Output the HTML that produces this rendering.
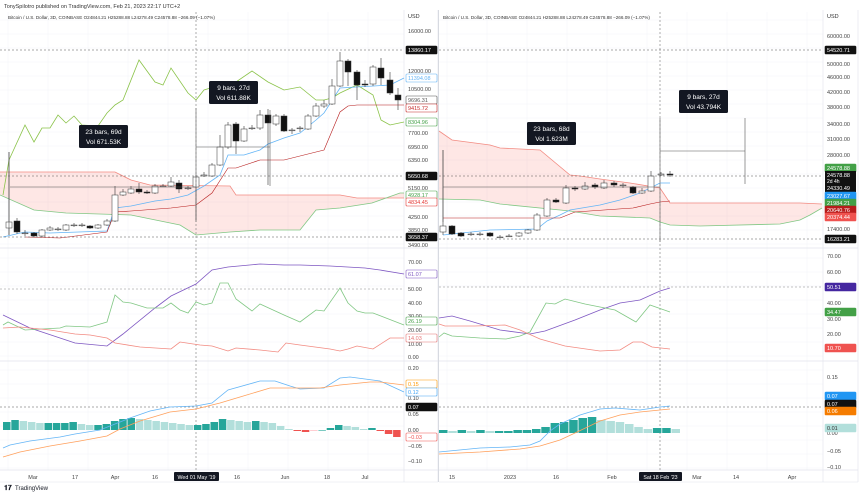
<!DOCTYPE html>
<html><head><meta charset="utf-8">
<style>
html,body{margin:0;padding:0;background:#fff;}
body{width:860px;height:498px;overflow:hidden;font-family:"Liberation Sans",sans-serif;}
svg text{font-family:"Liberation Sans",sans-serif;}
</style></head><body>
<svg id="s" width="860" height="498" viewBox="0 0 860 498" xmlns="http://www.w3.org/2000/svg">
<text x="4" y="8" font-size="5.5" fill="#333">TonySpilotro published on TradingView.com, Feb 21, 2023 22:17 UTC+2</text>
<text x="4" y="490" font-size="7" fill="#131722" font-weight="bold">𝟏𝟕</text>
<text x="15" y="490" font-size="6" fill="#131722">TradingView</text>
</svg>
<script>
const S=document.getElementById('s');const NS='http://www.w3.org/2000/svg';
function el(t,a,txt){const e=document.createElementNS(NS,t);for(const k in a)e.setAttribute(k,a[k]);if(txt!==undefined)e.textContent=txt;S.appendChild(e);return e;}
function pl(p,c,w){el('polyline',{points:p.map(q=>q.join(',')).join(' '),fill:'none',stroke:c,'stroke-width':w||0.8});}
function line(x1,y1,x2,y2,c,w,d){el('line',{x1,y1,x2,y2,stroke:c,'stroke-width':w||0.6,'stroke-dasharray':d||''});}
function txt(x,y,t,c,sz,anchor){el('text',{x,y,'font-size':sz||5.5,fill:c||'#333','text-anchor':anchor||'start'},t);}
function box(x,y,t,bg,fg,outline){el('rect',{x:x,y:y-4,width:31,height:8,fill:outline?'#fff':bg,stroke:bg,'stroke-width':0.6,rx:1});txt(x+2,y+2,t,outline?bg:(fg||'#fff'),5.5);}
// panels frames
[[0,404,438],[439,823,858]].forEach(([a,b,c])=>{
 for(let y=20;y<470;y+=14)line(a,y,b,y,'#f2f4f8',0.5);
 for(let x=a+8;x<b;x+=40)line(x,12,x,470,'#f2f4f8',0.5);
 line(b,10,b,482,'#e0e3eb',0.6);line(c,10,c,482,'#e0e3eb',0.6);
 line(a,248,c,248,'#e0e3eb',0.7);line(a,361,c,361,'#e0e3eb',0.7);line(a,470,c,470,'#e0e3eb',0.7);line(a,482,c,482,'#e0e3eb',0.5);
});
line(438.5,10,438.5,482,'#d0d3db',0.8);
txt(8,19,'Bitcoin / U.S. Dollar, 3D, COINBASE  O24844.21  H25288.88  L24278.49  C24578.88  −266.09 (−1.07%)','#333',4.6);
txt(443,19,'Bitcoin / U.S. Dollar, 3D, COINBASE  O24844.21  H25288.88  L24278.49  C24578.88  −266.09 (−1.07%)','#333',4.6);
txt(408,18,'USD','#333',5.5);txt(827,18,'USD','#333',5.5);
// clouds
function cloud(A,B){const p=A.concat(B.slice().reverse());el('polygon',{points:p.map(q=>q.join(',')).join(' '),fill:'rgba(244,67,54,0.13)'});pl(A,'#f28b82',0.8);pl(B,'#81c784',0.8);}
cloud([[0,172],[115,172],[131,180],[150,185],[230,186],[236,195],[340,195],[357,198],[404,198]],
 [[0,195],[34,210],[66,213],[131,215],[180,225],[196,235],[230,232],[260,230],[300,230],[316,210],[340,208],[372,203],[400,193],[404,193]]);
cloud([[439,131],[452,140],[490,145],[500,148],[540,150],[570,175],[580,176],[600,179],[630,183],[660,188],[670,203],[800,203],[822,204]],
 [[439,199],[480,200],[500,204],[570,211],[600,216],[650,218],[660,222],[670,225],[700,226],[780,224],[800,220],[810,215],[822,208]]);
// left lines
pl([[3,195],[9,160],[25,125],[34,142],[42,128],[50,128],[58,115],[66,123],[74,116],[82,125],[98,126],[107,113],[115,105],[123,100],[139,60],[155,82],[163,85],[171,68],[188,93],[196,100],[204,90],[220,85],[236,82],[252,71],[268,82],[284,90],[300,87],[316,100],[324,100],[332,98],[340,93],[357,85],[373,95],[381,120],[390,125],[404,122]],'#8bc34a',0.8);
pl([[3,237],[25,232],[50,233],[107,231],[115,208],[131,206],[155,201],[171,199],[188,195],[204,186],[220,175],[228,155],[244,155],[260,150],[268,144],[284,138],[300,133],[316,120],[324,113],[340,88],[390,85],[404,78]],'#64b5f6',0.8);
pl([[25,237],[60,238],[107,232],[115,212],[131,211],[171,208],[196,205],[212,193],[228,168],[236,168],[260,160],[284,160],[316,152],[324,150],[340,112],[348,106],[357,105],[404,105]],'#b71c1c',0.6);
pl([[443,235],[490,230],[537,229],[547,221],[560,215],[570,210],[600,205],[620,200],[640,193],[660,183],[670,183]],'#64b5f6',0.8);
pl([[443,218],[560,218],[570,214],[575,212],[633,208],[650,204],[660,202],[670,201]],'#b71c1c',0.6);
// candles [x,o,c,h,l] in px
function candles(L){L.forEach(([x,o,c,h,l])=>{const top=Math.min(o,c),bot=Math.max(o,c);line(x,h,x,l,'#333',0.6);
 el('rect',{x:x-3,y:top,width:6,height:Math.max(bot-top,0.8),fill:c>o?'#111':'#fff',stroke:'#333','stroke-width':0.5});});}
candles([[9,228,222,152,235],[17,221,232,218,234],[25,233,233,230,236],[34,233,236,232,237],[42,236,230,229,237],[50,230,228,226,231],[58,229,229,227,231],[66,230,225,224,231],[74,225,225,223,227],[82,225,225,223,227],[90,226,228,225,229],[98,228,225,224,229],[107,225,221,219,226],[115,221,195,186,222],[123,195,192,189,196],[131,193,189,186,194],[139,189,192,183,194],[147,192,193,190,194],[155,193,186,184,194],[163,186,186,184,187],[171,186,182,177,187],[179,183,189,180,193],[188,188,188,186,190],[196,187,177,175,220],[204,176,175,172,177],[212,176,165,163,177],[220,165,147,135,166],[228,147,125,122,149],[236,124,141,122,154],[244,141,129,126,142],[252,128,128,125,130],[260,128,115,110,130],[268,115,123,109,185],[276,124,116,114,126],[284,116,131,114,132],[292,130,130,128,134],[300,128,128,126,132],[308,129,116,114,130],[316,116,106,103,117],[324,106,104,100,108],[332,104,86,79,105],[340,86,61,52,87],[348,61,72,59,86],[357,72,85,70,100],[365,84,85,80,87],[373,84,67,65,86],[381,68,78,58,85],[390,80,93,72,95],[398,95,100,88,110]]);
candles([[443,232,226,150,235],[452,226,234,225,235],[461,233,236,232,237],[471,234,234,232,236],[480,234,234,232,236],[490,233,236,232,237],[500,237,237,235,238],[509,236,236,234,237],[519,236,233,232,237],[528,233,230,229,234],[537,230,215,213,231],[547,216,200,198,217],[556,200,202,198,203],[566,203,188,185,204],[575,188,189,186,191],[585,189,186,182,190],[595,185,187,183,189],[604,188,183,180,189],[614,183,185,181,187],[623,185,185,183,188],[633,187,193,186,194],[642,193,191,188,194],[651,191,176,171,192],[661,175,174,172,176],[670,174,175,171,177]]);
// measurement lines
line(10,187,196,187,'#555',0.6);line(196,108,196,222,'#555',0.6);line(9,152,9,235,'#555',0.6);
line(196,147,270,147,'#555',0.6);line(270,110,270,186,'#555',0.6);
line(443,187,660,187,'#555',0.6);line(443,150,443,222,'#555',0.6);
line(660,118,660,242,'#555',0.6);line(660,151,745,151,'#555',0.6);line(745,118,745,184,'#555',0.6);
function lab(x,y,a,b){el('rect',{x,y,width:49,height:23,fill:'#131722',rx:1.5});txt(x+24.5,y+9,a,'#fff',6.5,'middle');txt(x+24.5,y+19,b,'#fff',6.5,'middle');}
lab(79,125,'23 bars, 69d','Vol 671.53K');lab(209,81,'9 bars, 27d','Vol 611.88K');
lab(527,122,'23 bars, 68d','Vol 1.623M');lab(679,90,'9 bars, 27d','Vol 43.794K');
// dashed
[50,176,237].forEach(y=>line(0,y,404,y,'#555',0.6,'2,2'));
[50,176,239].forEach(y=>line(439,y,823,y,'#555',0.6,'2,2'));
line(0,289,404,289,'#888',0.5,'2,2');line(439,287,823,287,'#888',0.5,'2,2');
line(0,407,404,407,'#555',0.5,'2,2');line(439,407,823,407,'#555',0.5,'2,2');
line(196,12,196,470,'#777',0.6,'2,2');line(660,12,660,470,'#777',0.6,'2,2');
// RSI/DMI
pl([[3,315],[30,328],[75,343],[107,346],[123,334],[155,308],[171,296],[196,284],[212,270],[228,267],[260,264],[284,265],[300,265],[330,266],[365,268],[380,270],[404,274]],'#7e57c2',0.8);
pl([[3,325],[8,322],[25,330],[60,328],[66,326],[90,327],[107,322],[115,295],[123,302],[131,303],[147,308],[163,308],[171,303],[180,310],[188,313],[196,302],[204,305],[212,303],[220,283],[228,283],[236,299],[252,311],[260,304],[284,315],[300,322],[316,310],[324,311],[340,288],[348,303],[357,311],[365,313],[373,313],[404,325]],'#81c784',0.8);
pl([[3,328],[20,327],[50,330],[75,334],[90,335],[107,338],[115,343],[140,347],[171,349],[180,342],[200,345],[212,346],[228,351],[236,348],[260,350],[278,352],[286,343],[300,345],[330,349],[340,351],[348,349],[357,346],[373,349],[390,338],[404,338]],'#f28b82',0.8);
pl([[439,318],[452,316],[470,321],[500,330],[530,334],[545,331],[575,320],[600,310],[620,303],[640,300],[660,291],[670,288]],'#7e57c2',0.8);
pl([[439,337],[444,333],[452,336],[480,338],[506,339],[520,336],[530,332],[546,303],[555,304],[565,299],[585,304],[615,310],[636,322],[650,305],[670,312]],'#81c784',0.8);
pl([[439,324],[445,326],[475,326],[505,325],[520,330],[540,339],[565,346],[600,351],[620,350],[633,342],[642,342],[652,347],[670,349]],'#f28b82',0.8);
// histograms
function hist(x0,step,z,H){let prev=0;H.forEach((h,i)=>{const up=h>=prev;prev=h;const col=h>=0?(up?'#26a69a':'#b2dfdb'):(up?'#ffcdd2':'#ef5350');
 el('rect',{x:x0+i*step,y:h>=0?z-h:z,width:step-0.8,height:Math.max(Math.abs(h),0.6),fill:col});});}
hist(3,8.3,430,[8,10,9,8,7,7,7,7,8,6,5,5,6,9,11,12,11,10,9,8,7,6,5,5,6,8,11,10,9,8,9,8,7,4,1,-1,-2,-1,0,2,5,4,3,1,2,-1,-4,-7]);
hist(439,9.3,433,[3,2,3,2,3,2,2,2,3,3,4,6,10,11,13,15,16,13,12,11,9,6,4,5,5,4]);
pl([[3,448],[10,445],[30,441],[60,437],[75,434],[100,430],[115,424],[130,418],[150,411],[170,407],[196,406],[212,403],[228,390],[260,381],[275,381],[290,386],[300,389],[324,388],[340,378],[350,377],[380,381],[404,392]],'#64b5f6',0.8);
pl([[3,457],[20,452],[50,446],[80,441],[107,436],[120,429],[140,421],[170,412],[196,409],[220,403],[240,397],[270,388],[290,388],[320,388],[340,385],[370,382],[380,382],[404,385]],'#ffa05c',0.8);
pl([[439,452],[480,448],[510,447],[530,445],[540,441],[550,431],[560,424],[580,415],[600,409],[615,408],[640,410],[660,407],[670,406]],'#64b5f6',0.8);
pl([[439,454],[480,452],[520,449],[540,446],[560,440],[575,433],[600,421],[620,415],[640,412],[660,410],[670,409]],'#ffa05c',0.8);
// axis labels left
[['16000.00',31],['12000.00',71],['10500.00',89],['7700.00',133],['6950.00',147],['6350.00',160],['5150.00',188],['4250.00',217],['3850.00',230],['3490.00',245],
 ['70.00',262],['50.00',289],['40.00',303],['30.00',316],['20.00',330],['10.00',344],['0.00',357],
 ['0.20',368],['0.10',398],['0.05',414],['0.00',430],['−0.05',446],['−0.10',461]].forEach(([t,y])=>txt(408,y+2,t,'#444',5.5));
box(406,50,'13860.17','#111');box(406,78,'11394.08','#64b5f6','',1);box(406,100,'9696.31','#555','',1);box(406,108,'9415.72','#c62828','',1);
box(406,122,'8304.96','#43a047','',1);box(406,176,'5650.68','#111');box(406,195,'4928.17','#43a047','',1);box(406,202,'4834.45','#e53935','',1);box(406,237,'3658.37','#111');
box(406,274,'61.07','#7e57c2','',1);box(406,321,'26.19','#43a047','',1);box(406,338,'14.03','#e57373','',1);
box(406,384,'0.15','#ff9800','',1);box(406,392,'0.12','#42a5f5','',1);box(406,407,'0.07','#111');box(406,437,'−0.03','#ef5350','',1);
// right axis
[['60000.00',36],['50000.00',64],['46000.00',77],['42000.00',92],['38000.00',107],['34000.00',124],['31000.00',139],['28000.00',155],['17400.00',229],
 ['70.00',256],['60.00',272],['40.00',303],['30.00',319],['20.00',334],['0.15',377],['0.00',433],['−0.05',451],['−0.10',467]].forEach(([t,y])=>txt(827,y+2,t,'#444',5.5));
box(825,50,'54520.71','#111');box(825,168,'24578.88','#43a047');
el('rect',{x:825,y:171,width:31,height:21,fill:'#111'});txt(827,177,'24578.88','#fff',5.5);txt(827,183,'2d 4h','#fff',5);txt(827,190,'24330.49','#fff',5.5);
box(825,196,'23027.67','#2196f3');box(825,203,'21984.21','#43a047');box(825,210,'20640.76','#b71c1c');box(825,217,'20374.44','#ef5350');box(825,239,'16283.21','#111');
box(825,287,'50.51','#4527a0');box(825,312,'34.47','#43a047');box(825,348,'10.70','#ef5350');
box(825,396,'0.07','#2196f3');box(825,404,'0.07','#111');box(825,411,'0.06','#f57c00');box(825,428,'0.01','#b2dfdb','#333');
// time axis
[['Mar',33],['17',75],['Apr',115],['16',155],['16',237],['Jun',285],['18',327],['Jul',365],['15',452],['2023',510],['16',556],['Feb',612],['Mar',697],['14',736],['Apr',792]].forEach(([t,x])=>txt(x,479,t,'#444',5.5,'middle'));
el('rect',{x:174,y:472,width:45,height:9,fill:'#131722',rx:1});txt(196.5,479,"Wed 01 May '19",'#fff',5.3,'middle');
el('rect',{x:639,y:472,width:43,height:9,fill:'#131722',rx:1});txt(660.5,479,"Sat 18 Feb '23",'#fff',5.3,'middle');
</script>
</body></html>
